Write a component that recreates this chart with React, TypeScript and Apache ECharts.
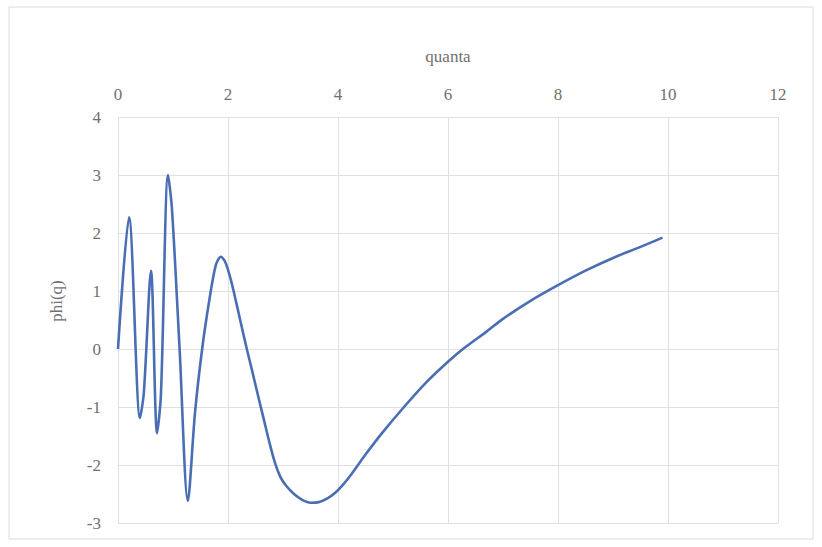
import React, { useEffect, useRef } from "react";
import * as echarts from "echarts";

const quanta: number[] = [
  0, 0.2, 0.4, 0.47, 0.6, 0.71, 0.78, 0.91, 0.98, 1.12, 1.27, 1.4, 1.53, 1.67, 1.78, 1.87,
  1.95, 2.05, 2.15, 2.25, 2.35, 2.45, 2.55, 2.65, 2.75, 2.85, 2.95, 3.05, 3.2, 3.35, 3.5,
  3.65, 3.8, 3.95, 4.1, 4.25, 4.5, 4.8, 5.2, 5.6, 6.0, 6.3, 6.7, 7.0, 7.5, 8.0, 8.5, 9.0,
  9.5, 9.9,
];
const phi: number[] = [
  0, 2.27, -1.19, -0.75, 1.35, -1.45, -0.8, 3.0, 2.43, 0.0, -2.62, -1.1, 0.0, 0.9, 1.45, 1.59,
  1.5, 1.2, 0.8, 0.38, -0.03, -0.42, -0.82, -1.21, -1.6, -1.95, -2.2, -2.35, -2.5, -2.6, -2.65,
  -2.64, -2.58, -2.48, -2.33, -2.15, -1.82, -1.45, -1.0, -0.58, -0.22, 0.02, 0.3, 0.52, 0.83, 1.1, 1.35, 1.57,
  1.76, 1.92,
];
const xTitle = "quanta";
const yTitle = "phi(q)";

export default function App() {
  const ref = useRef<HTMLDivElement>(null);
  useEffect(() => {
    if (!ref.current) return;
    const chart = echarts.init(ref.current, undefined, { renderer: "svg" });
    const font = "'Liberation Serif', 'DejaVu Serif', serif";
    const data = quanta.map((q, i) => [q, phi[i]]);
    chart.setOption({
      animation: false,
      backgroundColor: "#ffffff",
      grid: { left: 118, right: 44, top: 117, bottom: 24, containLabel: false },
      xAxis: {
        type: "value",
        position: "top",
        min: 0,
        max: 12,
        interval: 2,
        axisLine: { show: false },
        axisTick: { show: false },
        axisLabel: { color: "#707070", fontFamily: font, fontSize: 17, margin: 14 },
        splitLine: { show: true, lineStyle: { color: "#e0e0e0", width: 1 } },
      },
      yAxis: {
        type: "value",
        min: -3,
        max: 4,
        interval: 1,
        axisLine: { show: false },
        axisTick: { show: false },
        axisLabel: { color: "#707070", fontFamily: font, fontSize: 17, margin: 17 },
        splitLine: { show: true, lineStyle: { color: "#e0e0e0", width: 1 } },
      },
      graphic: [
        {
          type: "rect",
          shape: { x: 9, y: 7, width: 804, height: 532 },
          style: { fill: "none", stroke: "#dcdcdc", lineWidth: 1 },
          silent: true,
        },
        {
          type: "text",
          x: 448,
          y: 56,
          style: {
            text: xTitle,
            fontFamily: font,
            fontSize: 17,
            fill: "#707070",
            align: "center",
            verticalAlign: "middle",
          },
        },
        {
          type: "text",
          x: 56,
          y: 301,
          rotation: Math.PI / 2,
          style: {
            text: yTitle,
            fontFamily: font,
            fontSize: 17,
            fill: "#707070",
            align: "center",
            verticalAlign: "middle",
          },
        },
      ],
      series: [
        {
          type: "line",
          data,
          smooth: 0.3,
          showSymbol: false,
          lineStyle: { color: "#4a6eb3", width: 2.6 },
        },
      ],
    });
    return () => chart.dispose();
  }, []);
  return (
    <div
      ref={ref}
      style={{ position: "absolute", left: 0, top: 0, width: 822, height: 547 }}
    />
  );
}
